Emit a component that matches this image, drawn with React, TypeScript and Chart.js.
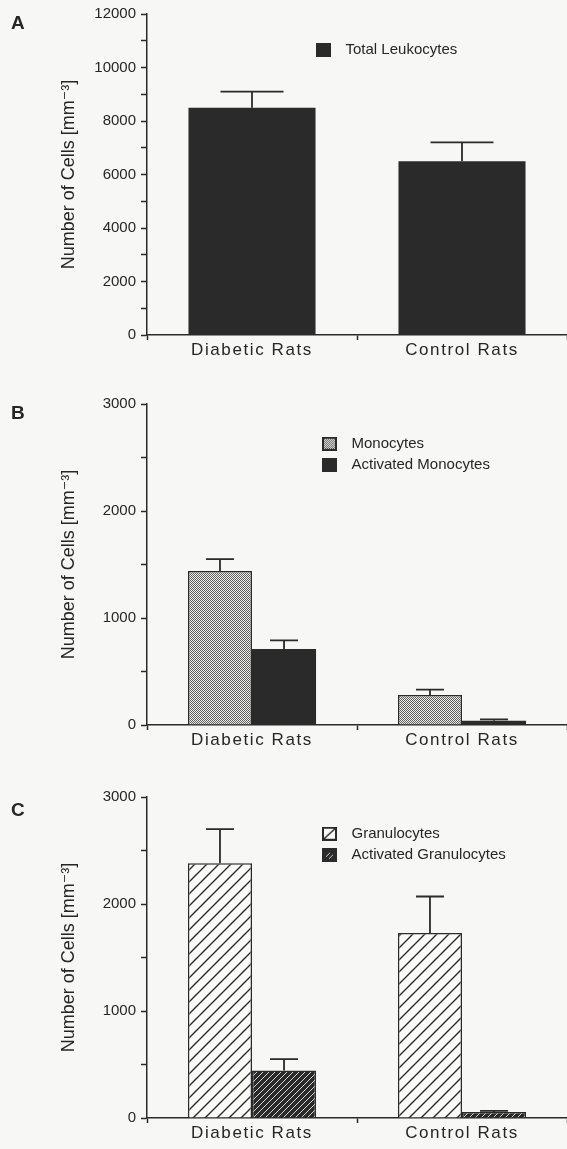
import React, { useEffect, useRef } from 'react';
import { Chart, registerables, CategoryScale } from 'chart.js';

Chart.register(...registerables);

// ---------- data ----------
const categories = ['Diabetic Rats', 'Control Rats'];

const totalLeukocytes = [8500, 6500];
const totalLeukocytesErr = [600, 700];

const monocytes = [1440, 280];
const monocytesErr = [110, 50];
const activatedMonocytes = [710, 40];
const activatedMonocytesErr = [80, 12];

const granulocytes = [2380, 1730];
const granulocytesErr = [320, 340];
const activatedGranulocytes = [445, 55];
const activatedGranulocytesErr = [105, 12];

const yTitle = 'Number of Cells [mm⁻³]';
const axisA = { max: 12000, step: 1000, labelStep: 2000 };
const axisBC = { max: 3000, step: 500, labelStep: 1000 };

// ---------- styles ----------
const FONT = "'Liberation Sans', Arial, Helvetica, 'DejaVu Sans', sans-serif";
const INK = '#2a2a2a';
const TEXT = '#262626';
const BG = '#f7f7f5';
const X_LETTER_SPACING = 1.6;

class SpacedCategoryScale extends CategoryScale {
  static id = 'spacedCategory';
  drawLabels(chartArea: any) {
    const ctx: any = (this as any).ctx;
    const prev = ctx.letterSpacing;
    ctx.letterSpacing = X_LETTER_SPACING + 'px';
    super.drawLabels(chartArea);
    ctx.letterSpacing = prev || '0px';
  }
}
Chart.register(SpacedCategoryScale as any);

function tile(w: number, h: number, draw: (g: CanvasRenderingContext2D) => void) {
  const c = document.createElement('canvas');
  c.width = w;
  c.height = h;
  draw(c.getContext('2d')!);
  return c;
}

function diagLines(g: CanvasRenderingContext2D, s: number) {
  g.beginPath();
  g.moveTo(-2, s + 2);
  g.lineTo(s + 2, -2);
  g.moveTo(-2, 2);
  g.lineTo(2, -2);
  g.moveTo(s - 2, s + 2);
  g.lineTo(s + 2, s - 2);
  g.stroke();
}

const dotTile = () =>
  tile(2, 2, (g) => {
    g.fillStyle = '#efefed';
    g.fillRect(0, 0, 2, 2);
    g.fillStyle = '#5e5e5e';
    g.fillRect(0, 0, 1, 1);
    g.fillRect(1, 1, 1, 1);
  });
const hatchTile = () =>
  tile(12, 12, (g) => {
    g.fillStyle = '#fbfbfa';
    g.fillRect(0, 0, 12, 12);
    g.strokeStyle = INK;
    g.lineWidth = 1.4;
    diagLines(g, 12);
  });
const darkHatchTile = () =>
  tile(6, 6, (g) => {
    g.fillStyle = INK;
    g.fillRect(0, 0, 6, 6);
    g.strokeStyle = '#d4d4d4';
    g.lineWidth = 1;
    diagLines(g, 6);
  });

function makeFill(kind: string, ctx: CanvasRenderingContext2D): any {
  if (kind === 'dots') return ctx.createPattern(dotTile(), 'repeat');
  if (kind === 'hatch') return ctx.createPattern(hatchTile(), 'repeat');
  if (kind === 'darkHatch') return ctx.createPattern(darkHatchTile(), 'repeat');
  return INK;
}

function legendImage(kind: string) {
  return tile(22, 14, (g) => {
    if (kind === 'solid') {
      g.fillStyle = INK;
      g.fillRect(0, 0, 15, 14);
      return;
    }
    if (kind === 'dots') {
      g.fillStyle = g.createPattern(dotTile(), 'repeat')!;
      g.fillRect(0, 0, 15, 14);
      g.strokeStyle = INK;
      g.lineWidth = 2;
      g.strokeRect(1, 1, 13, 12);
      return;
    }
    if (kind === 'hatch') {
      g.fillStyle = '#fbfbfa';
      g.fillRect(0, 0, 15, 14);
      g.strokeStyle = INK;
      g.lineWidth = 2;
      g.strokeRect(1, 1, 13, 12);
      g.lineWidth = 1.5;
      g.beginPath();
      g.moveTo(2, 12);
      g.lineTo(13, 2);
      g.stroke();
      return;
    }
    // darkHatch
    g.fillStyle = INK;
    g.fillRect(0, 0, 15, 14);
    g.strokeStyle = '#cfcfcf';
    g.lineWidth = 1;
    g.beginPath();
    g.moveTo(4, 9);
    g.lineTo(8, 5);
    g.moveTo(7, 11);
    g.lineTo(11, 7);
    g.stroke();
  });
}

const errorBarsPlugin = {
  id: 'errorBars',
  afterDatasetsDraw(chart: any, _args: any, opts: any) {
    const ctx = chart.ctx;
    const y = chart.scales.y;
    ctx.save();
    ctx.strokeStyle = INK;
    ctx.lineWidth = 1.8;
    chart.data.datasets.forEach((ds: any, di: number) => {
      const meta = chart.getDatasetMeta(di);
      meta.data.forEach((el: any, i: number) => {
        const v = ds.data[i];
        const e = ds.errors ? ds.errors[i] : 0;
        if (!e) return;
        const yTop = y.getPixelForValue(v + e);
        const half = (opts.capWidth || 20) / 2;
        ctx.beginPath();
        ctx.moveTo(el.x, el.y);
        ctx.lineTo(el.x, yTop);
        ctx.moveTo(el.x - half, yTop);
        ctx.lineTo(el.x + half, yTop);
        ctx.stroke();
      });
    });
    ctx.restore();
  },
};

const legendPlacer = {
  id: 'legendPlacer',
  afterLayout(chart: any, _args: any, opts: any) {
    const lg = chart.legend;
    if (!lg) return;
    const w = lg.width + 40;
    const h = lg.height + 20;
    lg.left = opts.x;
    lg.top = opts.y;
    lg.right = opts.x + w;
    lg.bottom = opts.y + h;
  },
};

type SeriesDef = { label: string; data: number[]; errors: number[]; kind: string; border: number };

type PanelProps = {
  top: number;
  letter: string;
  letterTop: number;
  series: SeriesDef[];
  axis: { max: number; step: number; labelStep: number };
  capWidth: number;
  catPct: number;
  legendX: number;
  legendY: number;
};

const W = 567;
const H = 365;

function Panel(p: PanelProps) {
  const ref = useRef<HTMLCanvasElement>(null);
  useEffect(() => {
    const canvas = ref.current!;
    const ctx = canvas.getContext('2d')!;
    const imgs = p.series.map((s) => legendImage(s.kind));
    const chart = new Chart(canvas, {
      type: 'bar',
      data: {
        labels: categories,
        datasets: p.series.map((s) => ({
          label: s.label,
          data: s.data,
          errors: s.errors,
          backgroundColor: makeFill(s.kind, ctx),
          borderColor: INK,
          borderWidth: s.border,
          categoryPercentage: p.catPct,
          barPercentage: 1,
        })) as any,
      },
      options: {
        responsive: false,
        animation: false,
        devicePixelRatio: 1,
        layout: { padding: { top: 14, left: 0, right: 0, bottom: 0 } },
        scales: {
          x: {
            type: 'spacedCategory' as any,
            ticks: {
              color: TEXT,
              font: { family: FONT, size: 17 },
              padding: 0,
              maxRotation: 0,
              autoSkip: false,
            },
            grid: {
              display: true,
              drawOnChartArea: false,
              drawTicks: true,
              tickLength: 5,
              tickColor: INK,
              tickWidth: 1.5,
              offset: true,
            },
            border: { display: true, color: INK, width: 1.5 },
            afterFit: (s: any) => {
              s.height = 30;
            },
          } as any,
          y: {
            min: 0,
            max: p.axis.max,
            ticks: {
              stepSize: p.axis.step,
              autoSkip: false,
              padding: 5,
              color: TEXT,
              font: { family: FONT, size: 15 },
              callback: (v: any) => (Number(v) % p.axis.labelStep === 0 ? String(v) : ''),
            },
            grid: {
              display: true,
              drawOnChartArea: false,
              drawTicks: true,
              tickLength: 6,
              tickColor: INK,
              tickWidth: 1.5,
            },
            border: { display: true, color: INK, width: 1.5 },
            title: {
              display: true,
              text: yTitle,
              color: TEXT,
              font: { family: FONT, size: 18 },
              padding: { top: 58, bottom: 0 },
            },
            afterFit: (s: any) => {
              s.width = 147;
            },
          } as any,
        },
        plugins: {
          tooltip: { enabled: false },
          legend: {
            position: 'chartArea',
            align: 'start',
            labels: {
              usePointStyle: true,
              pointStyleWidth: 22,
              boxHeight: 14,
              padding: 6,
              color: TEXT,
              font: { family: FONT, size: 15 },
              generateLabels: (c: any) => {
                const items = (Chart.defaults.plugins.legend.labels as any).generateLabels(c);
                items.forEach((it: any, i: number) => {
                  it.pointStyle = imgs[i];
                });
                return items;
              },
            },
          } as any,
          errorBars: { capWidth: p.capWidth },
          legendPlacer: { x: p.legendX - 6, y: p.legendY - 6.5 },
        } as any,
      },
      plugins: [errorBarsPlugin, legendPlacer],
    });
    return () => chart.destroy();
  }, []);
  return (
    <div style={{ position: 'absolute', left: 0, top: p.top, width: W, height: H }}>
      <canvas ref={ref} width={W} height={H} style={{ display: 'block' }} />
      <div
        style={{
          position: 'absolute',
          left: 11,
          top: p.letterTop,
          fontFamily: FONT,
          fontWeight: 'bold',
          fontSize: 19,
          lineHeight: '19px',
          color: TEXT,
        }}
      >
        {p.letter}
      </div>
    </div>
  );
}

export default function App() {
  return (
    <div style={{ position: 'absolute', left: 0, top: 0, width: W, height: 1149, background: BG, overflow: 'hidden' }}>
      <Panel
        top={0}
        letter="A"
        letterTop={12.5}
        series={[{ label: 'Total Leukocytes', data: totalLeukocytes, errors: totalLeukocytesErr, kind: 'solid', border: 0 }]}
        axis={axisA}
        capWidth={63}
        catPct={0.605}
        legendX={316}
        legendY={43}
      />
      <Panel
        top={390}
        letter="B"
        letterTop={12.5}
        series={[
          { label: 'Monocytes', data: monocytes, errors: monocytesErr, kind: 'dots', border: 1.5 },
          { label: 'Activated Monocytes', data: activatedMonocytes, errors: activatedMonocytesErr, kind: 'solid', border: 0 },
        ]}
        axis={axisBC}
        capWidth={28}
        catPct={0.61}
        legendX={322}
        legendY={46.7}
      />
      <Panel
        top={783}
        letter="C"
        letterTop={16.5}
        series={[
          { label: 'Granulocytes', data: granulocytes, errors: granulocytesErr, kind: 'hatch', border: 1.5 },
          { label: 'Activated Granulocytes', data: activatedGranulocytes, errors: activatedGranulocytesErr, kind: 'darkHatch', border: 1.5 },
        ]}
        axis={axisBC}
        capWidth={28}
        catPct={0.61}
        legendX={322}
        legendY={43.7}
      />
    </div>
  );
}
